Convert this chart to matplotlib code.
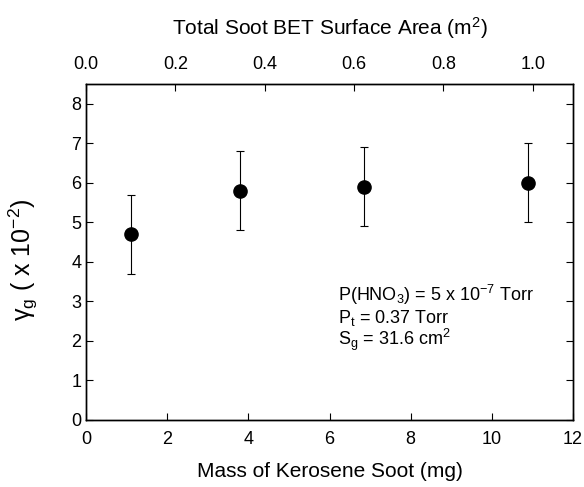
import numpy as np
import matplotlib
matplotlib.use('Agg')
import matplotlib.pyplot as plt

plt.rcParams['font.family'] = ['Liberation Sans', 'DejaVu Sans']
plt.rcParams['mathtext.fontset'] = 'custom'
plt.rcParams['mathtext.rm'] = 'Liberation Sans'
plt.rcParams['mathtext.it'] = 'Liberation Sans'
plt.rcParams['mathtext.default'] = 'regular'

# data
soot_mass = np.array([1.1, 3.8, 6.85, 10.9])      # mg
gamma = np.array([4.7, 5.8, 5.9, 6.0])            # x 10^-2
gamma_err = np.array([1.0, 1.0, 1.0, 1.0])

x_ticks = [0, 2, 4, 6, 8, 10, 12]
y_ticks = [0, 1, 2, 3, 4, 5, 6, 7, 8]
top_ticks = [0.0, 0.2, 0.4, 0.6, 0.8, 1.0]

fig = plt.figure(figsize=(5.84, 4.87), dpi=100)
ax = fig.add_axes([86/584, 1-420/487, (573-86)/584, (420-84)/487])

ax.errorbar(soot_mass, gamma, yerr=gamma_err, fmt='o', color='black',
            ms=9.5, elinewidth=0.8, capsize=3, capthick=0.8)

ax.set_xlim(0, 12)
ax.set_ylim(0, 8.5)
ax.set_xticks(x_ticks)
ax.set_yticks(y_ticks)
ax.tick_params(direction='in', length=5, width=0.8, labelsize=13, right=True)
ax.tick_params(axis='x', pad=8)
ax.set_xlabel('Mass of Kerosene Soot (mg)', fontsize=15, labelpad=10)
ax.set_ylabel(r'$\gamma_g$ ( x 10$^{-2}$)', fontsize=18)
ax.yaxis.set_label_coords(-0.094, 0.476)

# top axis
ax2 = ax.twiny()
ax2.set_xlim(0, 1.09)
ax2.set_xticks(top_ticks)
ax2.set_xticklabels(['%.1f' % t for t in top_ticks])
ax2.tick_params(direction='in', length=5, width=0.8, labelsize=13, pad=8)
ax2.set_xlabel(r'Total Soot BET Surface Area (m$^2$)', fontsize=15, labelpad=15)

for a in (ax, ax2):
    for s in a.spines.values():
        s.set_linewidth(1.0)

ax.text(0.517, 0.355, r'P(HNO$_3$) = 5 x 10$^{-7}$ Torr', transform=ax.transAxes, fontsize=13)
ax.text(0.517, 0.29, r'P$_t$ = 0.37 Torr', transform=ax.transAxes, fontsize=13)
ax.text(0.517, 0.222, r'S$_g$ = 31.6 cm$^2$', transform=ax.transAxes, fontsize=13)

plt.savefig('out.png', dpi=100)
